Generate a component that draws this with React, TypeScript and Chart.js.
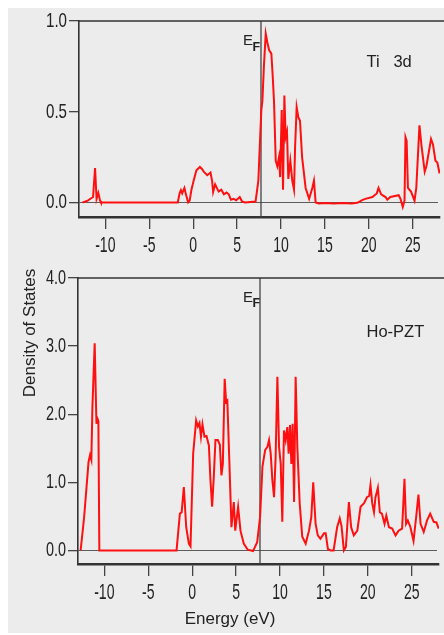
import React, { useEffect, useRef } from 'react';
import { Chart, registerables } from 'chart.js';

Chart.register(...registerables);

// ---------- data ----------
const X_TICKS = [-10, -5, 0, 5, 10, 15, 20, 25];
const X_TICK_LABELS = ['-10', '-5', '0', '5', '10', '15', '20', '25'];
const TI_Y_TICKS = [0, 0.5, 1.0];
const TI_Y_TICK_LABELS = ['0.0', '0.5', '1.0'];
const HO_Y_TICKS = [0, 1, 2, 3, 4];
const HO_Y_TICK_LABELS = ['0.0', '1.0', '2.0', '3.0', '4.0'];
const E_FERMI = 7.72;

const TI_ENERGY = [
  -12.6, -12.0, -11.67, -11.4, -11.17, -11.0, -10.8, -10.6, -10.5,
  -1.75, -1.55, -1.4, -1.25, -1.0, -0.8, -0.57, -0.4, -0.2,
  0.1, 0.37, 0.76, 1.0, 1.2, 1.6, 1.97, 2.15, 2.27, 2.5, 2.9, 3.2, 3.5, 3.8, 4.05, 4.3, 4.6, 4.9, 5.3, 5.57, 5.9,
  7.1, 7.42, 7.6, 7.76, 7.88, 8.05, 8.26, 8.45, 8.64, 8.9, 9.05, 9.2, 9.4, 9.58, 9.77, 9.9,
  10.08, 10.23, 10.38, 10.53, 10.68, 10.83, 11.06, 11.28, 11.48, 11.6, 11.78, 11.97, 12.16, 12.4, 12.8, 13.2, 13.56, 13.75, 13.94, 14.3,
  15, 16, 17, 18, 18.7, 19.24, 19.6, 20.4, 20.9, 21.1, 21.4, 21.9, 22.1, 22.45, 23.4, 23.6, 23.86, 24.06,
  24.17, 24.3, 24.45, 24.8, 25.2, 25.4, 25.76, 26.0, 26.36, 26.55, 27.08, 27.3, 27.58, 27.8, 28.05,
];
const TI_DOS = [
  0, 0.01, 0.022, 0.03, 0.19, 0.02, 0.053, 0.01, 0,
  0, 0.05, 0.068, 0.05, 0.08, 0.04, 0, 0.01, 0.07,
  0.13, 0.178, 0.196, 0.185, 0.17, 0.15, 0.165, 0.12, 0.058, 0.1, 0.06, 0.07, 0.045, 0.055, 0.045, 0.015, 0.02, 0.012, 0.03, 0.005, 0,
  0.005, 0.12, 0.33, 0.51, 0.56, 0.75, 0.93, 0.88, 0.84, 0.82, 0.7, 0.56, 0.23, 0.2, 0.25, 0.14,
  0.51, 0.07, 0.59, 0.36, 0.39, 0.13, 0.23, 0.12, 0.07, 0.3, 0.525, 0.47, 0.45, 0.25, 0.08, 0.02, 0.08, 0.12, 0.0, -0.005,
  -0.003, -0.005, -0.003, -0.005, -0.002, 0.013, 0.02, 0.03, 0.05, 0.08, 0.045, 0.03, 0.015, 0.03, 0.04, 0.02, -0.025, 0.01,
  0.36, 0.34, 0.08, 0.06, 0.01, 0.08, 0.425, 0.31, 0.17, 0.2, 0.35, 0.32, 0.23, 0.22, 0.16,
];

const HO_ENERGY = [
  -12.7, -12.3, -11.8, -11.63, -11.48, -11.36, -11.1, -10.9, -10.8, -10.68, -10.57,
  -1.78, -1.4, -1.2, -0.95, -0.68, -0.38, -0.19,
  0.11, 0.45, 0.65, 0.83, 1.0, 1.17, 1.4, 1.63, 1.9, 2.08, 2.27, 2.46, 2.65, 2.92, 3.15, 3.33, 3.49,
  3.7, 3.86, 4.0, 4.24, 4.47, 4.74, 4.9, 5.23, 5.5, 5.87, 6.33, 6.93, 7.4, 7.73,
  8.0, 8.3, 8.56, 8.75, 8.94, 9.13, 9.32, 9.5, 9.7, 9.89, 10.08, 10.26, 10.45, 10.64, 10.83, 10.98, 11.14, 11.29, 11.44, 11.6, 11.78, 11.97, 12.24,
  12.53, 12.92, 13.3, 13.56, 13.78, 14.05, 14.3, 14.6, 15.0, 15.2, 15.45, 15.76, 16.1,
  16.5, 16.8, 17.0, 17.27, 17.5, 17.84, 18.1, 18.4, 18.8, 19.17, 19.55, 19.9, 20.15, 20.3, 20.5, 20.7, 20.87, 21.14, 21.36,
  21.6, 21.9, 22.1, 22.4, 22.77, 23.15, 23.5, 23.9, 24.17, 24.35, 24.55, 24.85, 25.2, 25.5, 25.76, 26.0, 26.36, 26.74, 27.1, 27.5, 27.8, 28.07,
];
const HO_DOS = [
  0, 0.49, 1.3, 1.4, 1.33, 2.1, 3.04, 1.86, 1.94, 1.9, 0,
  0, 0.54, 0.56, 0.93, 0.34, 0.1, 0.06,
  1.42, 1.91, 1.82, 1.87, 1.67, 1.85, 1.67, 1.68, 1.54, 1.03, 0.64, 1.08, 1.62, 1.62, 1.55, 1.1, 1.27,
  2.52, 2.18, 2.2, 1.27, 0.34, 0.71, 0.29, 0.64, 0.29, 0.1, 0.01, -0.01, 0.12, 0.49,
  1.23, 1.47, 1.52, 1.62, 1.42, 1.03, 0.78, 1.37, 2.55, 1.52, 1.27, 0.42, 1.76, 1.62, 1.81, 1.42, 1.84, 1.27, 1.86, 0.71, 2.55, 1.52, 0.69,
  0.2, 0.1, 0.29, 0.49, 1.0, 0.39, 0.22, 0.17, 0.25, 0.25, 0.02, 0, 0,
  0.34, 0.47, 0.36, 0, 0.05, 0.71, 0.34, 0.22, 0.29, 0.64, 0.69, 0.78, 0.8, 0.96, 0.69, 0.56, 0.78, 0.92, 0.56,
  0.54, 0.39, 0.51, 0.34, 0.32, 0.22, 0.29, 0.32, 1.05, 0.39, 0.44, 0.34, 0.14, 0.49, 0.82, 0.39, 0.27, 0.44, 0.54, 0.42, 0.41, 0.32,
];

// ---------- drawing helpers ----------
const FONT = '"Liberation Sans", Arial, Helvetica, sans-serif';
const TEXT = '#222222';

function condensed(ctx: CanvasRenderingContext2D, text: string, x: number, y: number, size: number, sx: number, align: CanvasTextAlign) {
  ctx.save();
  ctx.font = `${size}px ${FONT}`;
  ctx.fillStyle = TEXT;
  ctx.translate(x, y);
  ctx.scale(sx, 1);
  ctx.textAlign = align;
  ctx.textBaseline = 'middle';
  ctx.fillText(text, 0, 0);
  ctx.restore();
}

const decorPlugin = {
  id: 'decor',
  beforeDatasetsDraw(chart: any, _args: any, opts: any) {
    const { ctx, chartArea: a, scales } = chart;
    const x = scales.x;
    const y = scales.y;
    ctx.save();
    const y0 = Math.round(y.getPixelForValue(0)) + 0.5;
    ctx.strokeStyle = '#5c5c5c';
    ctx.lineWidth = 1;
    ctx.beginPath();
    ctx.moveTo(a.left, y0);
    ctx.lineTo(a.right - 2, y0);
    ctx.stroke();
    const xf = x.getPixelForValue(opts.ef);
    ctx.strokeStyle = '#444444';
    ctx.lineWidth = 1.3;
    ctx.beginPath();
    ctx.moveTo(xf, a.top);
    ctx.lineTo(xf, a.bottom);
    ctx.stroke();
    ctx.restore();
  },
  afterDraw(chart: any, _args: any, opts: any) {
    const { ctx, chartArea: a, scales, width } = chart;
    const x = scales.x;
    const y = scales.y;
    ctx.save();
    // top frame line
    ctx.strokeStyle = '#333333';
    ctx.lineWidth = 1.6;
    ctx.beginPath();
    ctx.moveTo(a.left, a.top);
    ctx.lineTo(width, a.top);
    ctx.stroke();
    ctx.restore();

    // tick labels
    X_TICKS.forEach((v, i) => {
      condensed(ctx, X_TICK_LABELS[i], x.getPixelForValue(v), a.bottom + 28.5, 22, 0.64, 'center');
    });
    opts.yTicks.forEach((v: number, i: number) => {
      condensed(ctx, opts.yTickLabels[i], a.left - 12, y.getPixelForValue(v), opts.ySize, 0.72, 'right');
    });

    ctx.save();
    ctx.fillStyle = TEXT;
    ctx.textBaseline = 'alphabetic';
    ctx.textAlign = 'left';
    // E_F
    ctx.font = `15px ${FONT}`;
    ctx.fillText('E', opts.efText[0], opts.efText[1]);
    ctx.font = `bold 12.5px ${FONT}`;
    ctx.fillText('F', opts.efText[0] + 9.5, opts.efText[1] + 5.5);
    // panel label
    ctx.font = `16.5px ${FONT}`;
    ctx.fillText(opts.label, opts.labelPos[0], opts.labelPos[1]);
    if (opts.xTitle) {
      ctx.font = `17px ${FONT}`;
      ctx.textAlign = 'center';
      ctx.fillText(opts.xTitle, opts.xTitlePos[0], opts.xTitlePos[1]);
    }
    if (opts.yTitle) {
      ctx.translate(opts.yTitlePos[0], opts.yTitlePos[1]);
      ctx.rotate(-Math.PI / 2);
      ctx.font = `17px ${FONT}`;
      ctx.textAlign = 'center';
      ctx.textBaseline = 'middle';
      ctx.fillText(opts.yTitle, 0, 0);
    }
    ctx.restore();
  },
};

function makeChart(canvas: HTMLCanvasElement, cfg: any) {
  return new Chart(canvas, {
    type: 'line',
    data: {
      datasets: [
        {
          data: cfg.energy.map((e: number, i: number) => ({ x: e, y: cfg.dos[i] })),
          borderColor: '#ff1010',
          borderWidth: 2,
          pointRadius: 0,
          tension: 0,
          fill: false,
        },
      ],
    },
    options: {
      responsive: false,
      animation: false,
      events: [],
      layout: { padding: { top: cfg.padTop, right: cfg.padRight, left: 0, bottom: 0 } },
      plugins: {
        legend: { display: false },
        tooltip: { enabled: false },
        decor: cfg.decor,
      } as any,
      scales: {
        x: {
          type: 'linear',
          min: -13,
          max: 28.1,
          afterBuildTicks: (s: any) => {
            s.ticks = X_TICKS.map((v) => ({ value: v }));
          },
          afterFit: (s: any) => {
            s.height = cfg.xAxisHeight;
          },
          ticks: { display: false },
          grid: { drawOnChartArea: false, drawTicks: true, tickLength: 12, color: '#444444', lineWidth: 1.3 },
          border: { display: true, color: '#333333', width: 2.6 },
        },
        y: {
          type: 'linear',
          min: cfg.yMin,
          max: cfg.yMax,
          afterBuildTicks: (s: any) => {
            s.ticks = cfg.yTicks.map((v: number) => ({ value: v }));
          },
          afterFit: (s: any) => {
            s.width = cfg.yAxisWidth;
          },
          ticks: { display: false },
          grid: { drawOnChartArea: false, drawTicks: true, tickLength: 10, color: '#444444', lineWidth: 1.3 },
          border: { display: true, color: '#333333', width: 1.6 },
        },
      },
    },
    plugins: [decorPlugin as any],
  });
}

export default function App() {
  const topRef = useRef<HTMLCanvasElement>(null);
  const botRef = useRef<HTMLCanvasElement>(null);

  useEffect(() => {
    const top = makeChart(topRef.current!, {
      energy: TI_ENERGY,
      dos: TI_DOS,
      yMin: -0.08,
      yMax: 1.0,
      yTicks: TI_Y_TICKS,
      padTop: 13,
      padRight: 4,
      xAxisHeight: 41,
      yAxisWidth: 71,
      decor: {
        ef: E_FERMI,
        yTicks: TI_Y_TICKS,
        yTickLabels: TI_Y_TICK_LABELS,
        ySize: 21,
        efText: [235, 37],
        label: 'Ti   3d',
        labelPos: [358.5, 58.5],
      },
    });
    const bot = makeChart(botRef.current!, {
      energy: HO_ENERGY,
      dos: HO_DOS,
      yMin: -0.2,
      yMax: 4.0,
      yTicks: HO_Y_TICKS,
      padTop: 20,
      padRight: 5,
      xAxisHeight: 69,
      yAxisWidth: 70,
      decor: {
        ef: E_FERMI,
        yTicks: HO_Y_TICKS,
        yTickLabels: HO_Y_TICK_LABELS,
        ySize: 20,
        efText: [235, 43.5],
        label: 'Ho-PZT',
        labelPos: [358.5, 79.3],
        xTitle: 'Energy (eV)',
        xTitlePos: [222, 365.5],
        yTitle: 'Density of States',
        yTitlePos: [22, 75],
      },
    });
    return () => {
      top.destroy();
      bot.destroy();
    };
  }, []);

  return (
    <div style={{ position: 'absolute', left: 8, top: 8, width: 436, height: 625, background: '#ececec', overflow: 'hidden' }}>
      <canvas ref={topRef} width={436} height={250} style={{ position: 'absolute', left: 0, top: 0, display: 'block' }} />
      <canvas ref={botRef} width={436} height={375} style={{ position: 'absolute', left: 0, top: 250, display: 'block' }} />
    </div>
  );
}
